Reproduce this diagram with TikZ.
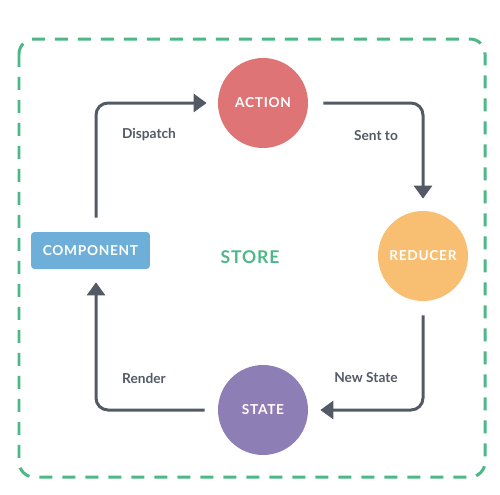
\documentclass[tikz,border=0pt]{standalone}
\usepackage{fontspec}
\setmainfont{Lato}
\newfontfamily\spaced[LetterSpace=5]{Lato}
\usetikzlibrary{arrows.meta,positioning}

\definecolor{actioncol}{HTML}{DE7475}
\definecolor{reducercol}{HTML}{F8BE72}
\definecolor{statecol}{HTML}{8D7FB5}
\definecolor{compcol}{HTML}{6DAFD8}
\definecolor{storecol}{HTML}{4DB887}
\definecolor{arrowcol}{HTML}{535A66}

\tikzstyle{circ} = [circle, minimum size=1.8cm, inner sep=0pt, text=white, font=\spaced\bfseries\fontsize{7.8}{9}\selectfont]
\tikzstyle{comp} = [rectangle, rounded corners=2pt, minimum width=2.38cm, minimum height=0.74cm, fill=compcol, text=white, font=\spaced\bfseries\fontsize{7.8}{9}\selectfont]
\tikzstyle{lbl}  = [text=arrowcol, font=\bfseries\fontsize{7.8}{9}\selectfont]
\tikzstyle{arrow} = [line width=0.06cm, draw=arrowcol, rounded corners=0.24cm, -{Triangle[width=0.36cm,length=0.26cm]}]
\tikzstyle{store} = [draw=storecol, line width=0.06cm, dash pattern=on 0.26cm off 0.2cm, rounded corners=0.3cm]

\begin{document}
\begin{tikzpicture}[x=0.02cm, y={(0cm,-0.02cm)}]
\useasboundingbox (0,0) rectangle (500,494);

%% Store
\draw [store] (19,39) rectangle (485,477);
\node (sto) [text=storecol, font=\spaced\bfseries\fontsize{10}{12}\selectfont] at (250,257) {STORE};

%% Nodes
\node (act) [circ, fill=actioncol] at (263,103) {ACTION};
\node (red) [circ, fill=reducercol] at (423,256) {REDUCER};
\node (sta) [circ, fill=statecol] at (263,410) {STATE};
\node (com) [comp] at (90.5,250.5) {COMPONENT};

%% Labels
\node (lbl_dis) [lbl] at (149,135) {Dispatch};
\node (lbl_sen) [lbl] at (376,136) {Sent to};
\node (lbl_new) [lbl] at (366,378) {New State};
\node (lbl_ren) [lbl] at (144,378) {Render};

%% Arrows
\draw [arrow] ([xshift=0.11cm, yshift=0.28cm]com.north) |- ([xshift=-0.22cm]act.west);
\draw [arrow] ([xshift=0.3cm]act.east) -| ([yshift=0.24cm]red.north);
\draw [arrow] ([yshift=-0.28cm]red.south) |- ([xshift=0.24cm]sta.east);
\draw [arrow] ([xshift=-0.26cm]sta.west) -| ([xshift=0.11cm, yshift=-0.26cm]com.south);
\end{tikzpicture}
\end{document}
